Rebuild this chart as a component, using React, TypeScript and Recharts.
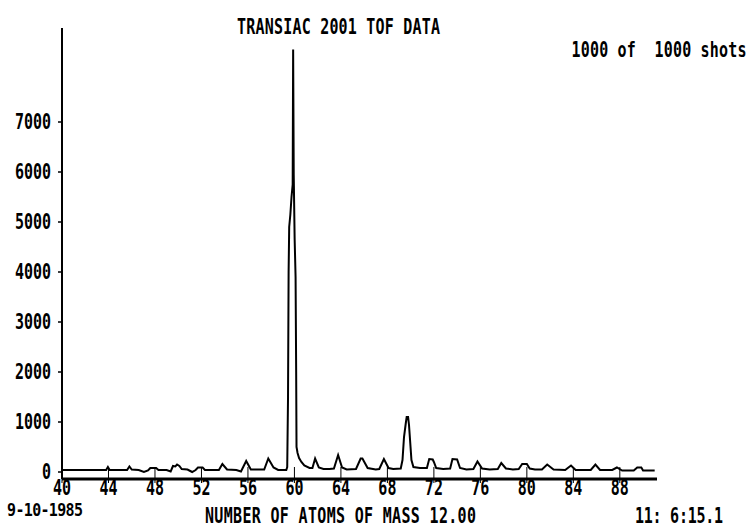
import { LineChart, Line, XAxis, YAxis } from 'recharts';

// mass (number of C atoms) and counts
const masses = [
  40.0, 41.0, 42.0, 43.0, 43.8, 43.95, 44.1, 45.6, 45.8, 46.0, 46.6, 47.05, 47.4, 47.6, 48.1, 48.3,
  49.0, 49.35, 49.55, 49.75, 49.9, 50.1, 50.3, 50.8, 51.2, 51.5, 51.7, 52.1, 52.3, 53.5, 53.8, 54.2,
  55.0, 55.4, 55.85, 56.25, 57.4, 57.75, 58.2, 58.6, 59.3, 59.38, 59.45, 59.5, 59.55, 59.65, 59.75,
  59.85, 59.89, 59.94, 60.02, 60.1, 60.15, 60.18, 60.27, 60.4, 60.6, 60.85, 61.3, 61.55, 61.78, 62.1,
  62.5, 63.0, 63.4, 63.76, 64.1, 64.5, 65.3, 65.7, 65.85, 66.3, 67.0, 67.3, 67.7, 68.1, 68.5, 69.15,
  69.3, 69.43, 69.58, 69.66, 69.78, 69.86, 69.95, 70.07, 70.24, 70.8, 71.4, 71.6, 71.9, 72.0, 72.2,
  72.8, 73.4, 73.6, 74.0, 74.25, 74.8, 75.4, 75.75, 76.15, 76.8, 77.5, 77.8, 78.2, 78.8, 79.3, 79.6,
  80.0, 80.25, 80.7, 81.3, 81.75, 82.3, 83.3, 83.8, 84.2, 85.5, 85.9, 86.3, 87.35, 87.75, 88.2, 89.2,
  89.5, 89.85, 90.0, 91.0,
];
const counts = [
  40, 40, 40, 40, 40, 100, 40, 40, 110, 50, 40, 0, 30, 80, 80, 40,
  40, 10, 120, 110, 150, 120, 60, 50, 0, 40, 90, 90, 40, 40, 160, 50,
  40, 10, 220, 50, 50, 270, 90, 40, 40, 100, 1500, 4000, 4900, 5150, 5500,
  5750, 8450, 5950, 4650, 3900, 2000, 500, 380, 280, 200, 130, 80, 80, 270, 90,
  60, 60, 70, 340, 90, 50, 60, 270, 270, 80, 50, 60, 260, 80, 60, 70,
  240, 700, 970, 1100, 1100, 940, 640, 240, 100, 80, 80, 260, 250, 200, 80,
  60, 70, 260, 250, 80, 50, 60, 210, 70, 50, 60, 180, 70, 50, 60, 160,
  160, 70, 50, 50, 150, 50, 40, 130, 40, 40, 150, 40, 40, 90, 30, 30,
  90, 90, 30, 30,
];
const xTicks = [40, 44, 48, 52, 56, 60, 64, 68, 72, 76, 80, 84, 88];
const yTicks = [0, 1000, 2000, 3000, 4000, 5000, 6000, 7000];

const data = masses.map((m, i) => ({ mass: m, count: counts[i] }));

const FONT = "'DejaVu Sans Mono', 'Liberation Mono', monospace";

// tall narrow printer-style text
function DotText({ x, y, anchor = 'middle', width, sy = 1.36, children }: any) {
  return (
    <text
      transform={`translate(${x},${y}) scale(1,${sy})`}
      textAnchor={anchor}
      dominantBaseline="central"
      fontFamily={FONT}
      fontSize={15}
      fontWeight="bold"
      fill="#000"
      textLength={width}
      lengthAdjust={width ? 'spacing' : undefined}
      style={{ whiteSpace: 'pre' }}
    >
      {children}
    </text>
  );
}

function XTick({ x, y, payload }: any) {
  return (
    <g>
      <line x1={x} x2={x} y1={y - 12} y2={y + 4} stroke="#000" strokeWidth={1} />
      <DotText x={x} y={y + 8.5}>{payload.value}</DotText>
    </g>
  );
}

function YTick({ x, y, payload }: any) {
  return (
    <g>
      <line x1={x - 4} x2={x} y1={y} y2={y} stroke="#000" strokeWidth={1.5} />
      <DotText x={x - 11} y={y} anchor="end">{payload.value}</DotText>
    </g>
  );
}

export default function App() {
  return (
    <div style={{ position: 'absolute', left: 0, top: 0, width: 747, height: 529, background: '#fff' }}>
      <LineChart width={747} height={529} data={data} margin={{ top: 28, right: 90, bottom: 0, left: 0 }}>
        <XAxis
          dataKey="mass"
          type="number"
          domain={[40, 91.2]}
          ticks={xTicks}
          interval={0}
          allowDataOverflow
          height={50}
          tickSize={0}
          tickMargin={0}
          tickLine={false}
          axisLine={{ stroke: '#000', strokeWidth: 3 }}
          tick={<XTick />}
        />
        <YAxis
          type="number"
          domain={[-140, 8880]}
          ticks={yTicks}
          interval={0}
          allowDataOverflow
          width={62}
          tickSize={0}
          tickMargin={0}
          tickLine={false}
          axisLine={{ stroke: '#000', strokeWidth: 2 }}
          tick={<YTick />}
        />
        <Line
          type="linear"
          dataKey="count"
          stroke="#000"
          strokeWidth={2}
          dot={false}
          isAnimationActive={false}
        />
      </LineChart>
      <svg
        width={747}
        height={529}
        style={{ position: 'absolute', left: 0, top: 0, pointerEvents: 'none' }}
      >
        <DotText x={338.5} y={26.5} width={203}>TRANSIAC 2001 TOF DATA</DotText>
        <DotText x={659} y={50} width={175}>1000 of  1000 shots</DotText>
        <DotText x={45} y={510.5} width={76} sy={1.2}>9-10-1985</DotText>
        <DotText x={340.5} y={516} width={271}>NUMBER OF ATOMS OF MASS 12.00</DotText>
        <DotText x={679} y={516} width={88}>11: 6:15.1</DotText>
      </svg>
    </div>
  );
}
